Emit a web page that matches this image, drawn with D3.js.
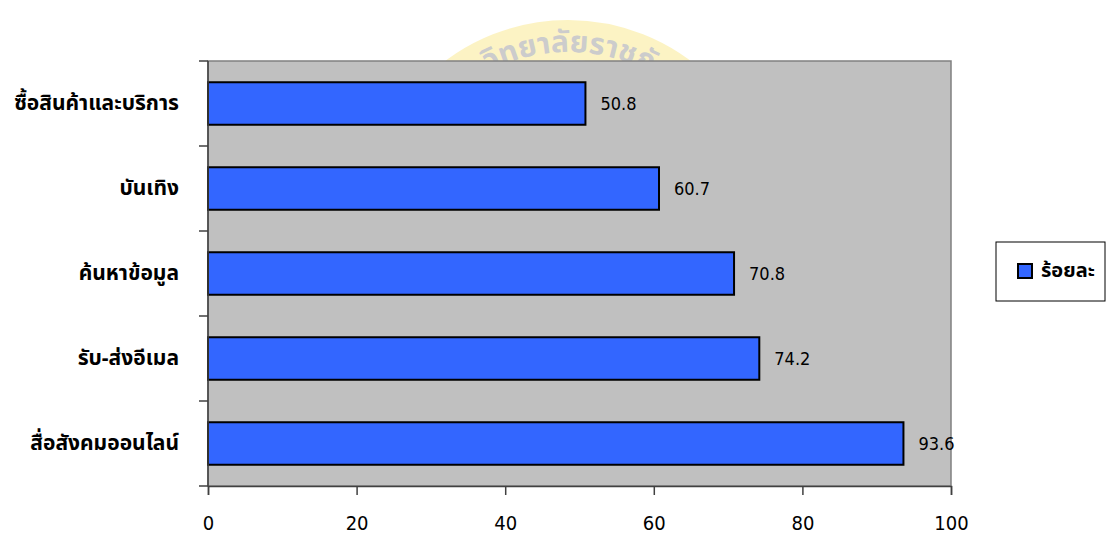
<!DOCTYPE html>
<html><head><meta charset="utf-8">
<script src="https://cdn.jsdelivr.net/npm/d3@7"></script>
<style>body{margin:0;background:#fff}svg{display:block}</style>
</head><body><svg id="c" width="1106" height="535"></svg>
<script>
const categories = ["ซื้อสินค้าและบริการ","บันเทิง","ค้นหาข้อมูล","รับ-ส่งอีเมล","สื่อสังคมออนไลน์"];
const values = [50.8, 60.7, 70.8, 74.2, 93.6];
const xTicks = [0, 20, 40, 60, 80, 100];
const seriesName = "ร้อยละ";

const svg = d3.select("#c");
const L = 208, R = 951, T = 61, B = 486;
const thai = "'Noto Sans Thai','Tahoma','Loma','Garuda',sans-serif";
const num = "'DejaVu Sans Condensed','DejaVu Sans',sans-serif";

// watermark
const wm = svg.append("g").attr("opacity", 0.5);
wm.append("circle").attr("cx", 568).attr("cy", 224).attr("r", 184)
  .attr("fill", "none").attr("stroke", "#fbe98a").attr("stroke-width", 40);
wm.append("path").attr("id", "arcp").attr("fill", "none")
  .attr("d", "M " + (568 - 172) + " 224 A 172 172 0 0 1 " + (568 + 172) + " 224");
wm.append("text").attr("font-family", thai).attr("font-size", 30).attr("font-weight", "bold")
  .attr("fill", "#9a9a9a")
  .append("textPath").attr("href", "#arcp").attr("startOffset", "52%").attr("text-anchor", "middle")
  .text("วิทยาลัยราชภัฏ");

const x = d3.scaleLinear().domain([0, 100]).range([L, R]);
const y = d3.scaleBand().domain(categories).range([T, B]).paddingInner(0.5).paddingOuter(0.25);

svg.append("rect").attr("x", L).attr("y", T).attr("width", R - L).attr("height", B - T)
  .attr("fill", "#c0c0c0").attr("stroke", "#808080").attr("stroke-width", 1.5);

svg.selectAll(".bar").data(values).join("rect")
  .attr("x", x(0)).attr("y", (d, i) => y(categories[i]))
  .attr("width", d => x(d) - x(0)).attr("height", y.bandwidth())
  .attr("fill", "#3366ff").attr("stroke", "#000").attr("stroke-width", 2);

svg.selectAll(".val").data(values).join("text")
  .attr("x", d => x(d) + 15).attr("y", (d, i) => y(categories[i]) + y.bandwidth() / 2)
  .attr("dy", "0.36em").attr("font-family", num).attr("font-size", 18).attr("fill", "#000")
  .text(d => d.toFixed(1));

// x axis
const xa = svg.append("g").attr("transform", `translate(0,${B})`)
  .call(d3.axisBottom(x).tickValues(xTicks).tickSize(9).tickPadding(21).tickFormat(d3.format("d")));
xa.select(".domain").attr("stroke", "#404040").attr("stroke-width", 1.5);
xa.selectAll(".tick line").attr("stroke", "#404040").attr("stroke-width", 1.5);
xa.selectAll("text").attr("font-family", num).attr("font-size", 20).attr("fill", "#000");

// y axis
const bounds = d3.range(categories.length + 1).map(i => T + i * (B - T) / categories.length);
svg.append("line").attr("x1", L).attr("x2", L).attr("y1", T).attr("y2", B)
  .attr("stroke", "#404040").attr("stroke-width", 1.5);
svg.selectAll(".yt").data(bounds).join("line")
  .attr("x1", L - 9).attr("x2", L).attr("y1", d => d).attr("y2", d => d)
  .attr("stroke", "#404040").attr("stroke-width", 1.5);
svg.selectAll(".cat").data(categories).join("text")
  .attr("x", 179).attr("y", d => y(d) + y.bandwidth() / 2).attr("dy", "0.3em")
  .attr("text-anchor", "end").attr("font-family", thai).attr("font-weight", "bold")
  .attr("font-size", 21).attr("fill", "#000").text(d => d);

// legend
const lg = svg.append("g");
lg.append("rect").attr("x", 996).attr("y", 242).attr("width", 109).attr("height", 59)
  .attr("fill", "#fff").attr("stroke", "#000").attr("stroke-width", 1);
lg.append("rect").attr("x", 1018).attr("y", 264).attr("width", 14).attr("height", 14)
  .attr("fill", "#3366ff").attr("stroke", "#000").attr("stroke-width", 2);
lg.append("text").attr("x", 1041).attr("y", 271).attr("dy", "0.3em")
  .attr("font-family", thai).attr("font-weight", "bold").attr("font-size", 20).text(seriesName);
</script></body></html>
